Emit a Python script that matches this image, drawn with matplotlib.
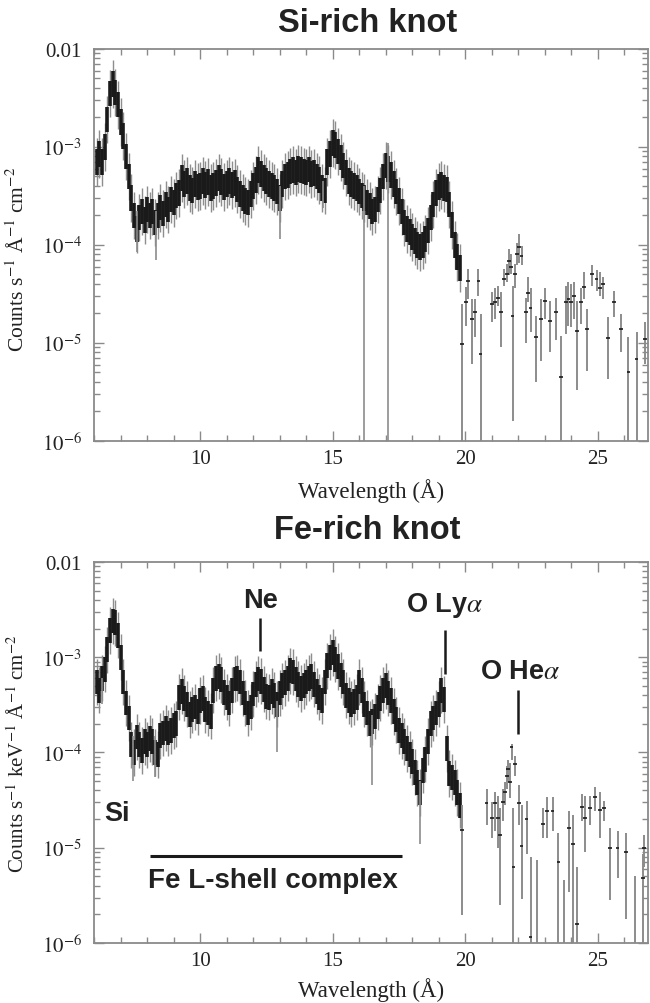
import matplotlib
matplotlib.use('Agg')
import matplotlib.pyplot as plt
from matplotlib.ticker import MultipleLocator, LogLocator, FixedLocator, FixedFormatter, NullFormatter
import numpy as np

plt.rcParams['font.family'] = ['Liberation Serif', 'DejaVu Serif']
plt.rcParams['mathtext.fontset'] = 'stix'

# ---- Si-rich knot, dense part (0.1 A bins from 6.1 A), units of 1e-4
si_flux = [7.0, 8.5, 7.0, 10, 19, 35, 44, 36, 27, 18,
           13, 8.0, 5.0, 3.0, 2.0, 1.45, 1.9, 2.2, 1.8, 2.3,
           2.0, 2.2, 1.7, 2.0, 2.4, 2.1, 2.6, 2.3, 2.9, 2.7,
           3.2, 3.4, 4.8, 4.2, 4.5, 3.8, 3.6, 4.2, 3.9, 4.0,
           4.5, 4.1, 4.4, 3.8, 4.0, 4.3, 4.8, 4.4, 3.9, 4.2,
           4.5, 4.1, 4.3, 3.7, 3.3, 3.0, 2.8, 2.7, 3.3, 4.0,
           4.6, 5.8, 5.3, 4.8, 4.5, 4.2, 4.0, 3.8, 3.5, 3.0,
           4.2, 5.0, 5.2, 5.6, 5.8, 5.5, 6.0, 5.8, 5.6, 5.5,
           5.9, 5.3, 5.4, 5.0, 4.6, 3.8, 3.6, 7.0, 8.5, 11.0,
           10.5, 9.0, 7.8, 6.5, 5.5, 4.5, 4.2, 4.0, 3.8, 3.5,
           3.2, 3.0, 2.7, 2.5, 2.2, 2.3, 2.9, 3.6, 5.0, 6.5,
           6.0, 5.2, 4.2, 3.5, 2.8, 2.2, 1.7, 1.45, 1.35, 1.2,
           1.1, 1.0, 0.95, 1.0, 1.15, 1.4, 1.9, 2.6, 3.4, 3.9,
           4.1, 3.8, 3.7, 2.6, 1.6, 1.0, 0.75, 0.58]

# long single bars inside the dense part
si_spike_x = [7.6, 8.35, 13.0, 14.65, 16.2, 17.08]
si_spike_lo = [8.5e-5, 7e-5, 1.15e-4, 2.4e-4, 5e-7, 5e-7]
si_spike_hi = [2.2e-4, 2.2e-4, 4e-4, 4.5e-4, 4e-4, 1.1e-3]

# sparse part: wavelength, value, lower and upper end of bar
si_x = [19.87, 20.03, 20.12, 20.27, 20.37, 20.5, 20.58, 21.0, 21.13, 21.25,
        21.35, 21.46, 21.57, 21.65, 21.72, 21.79, 21.88, 21.97, 22.04, 22.13,
        22.3, 22.38, 22.47, 22.67, 22.85, 23.02, 23.21, 23.43, 23.62, 23.8,
        23.9, 24.0, 24.1, 24.21, 24.36, 24.48, 24.61, 24.8, 24.96, 25.09,
        25.21, 25.4, 25.62, 25.87, 26.16, 26.47, 26.79]
si_y = [9.8e-6, 2.6e-5, 4.3e-5, 1.74e-5, 2.06e-5, 4.3e-5, 7.8e-6, 2.5e-5, 2.6e-5, 2.9e-5,
        2.06e-5, 4.5e-5, 5.1e-5, 6.9e-5, 6.0e-5, 1.88e-5, 5.1e-5, 8.1e-5, 9.5e-5, 7.8e-5,
        2.06e-5, 3.2e-5, 2.3e-5, 1.16e-5, 1.74e-5, 2.7e-5, 1.67e-5, 2.06e-5, 4.5e-6, 2.6e-5,
        2.8e-5, 2.6e-5, 3.0e-5, 1.32e-5, 2.6e-5, 3.7e-5, 1.39e-5, 5.1e-5, 4.5e-5, 3.6e-5,
        4.0e-5, 1.13e-5, 2.6e-5, 1.39e-5, 5.0e-6, 6.9e-6, 1.1e-5]
si_lo = [5e-7, 1.5e-5, 2.8e-5, 6.1e-6, 1.14e-5, 3.0e-5, 5e-7, 1.62e-5, 1.76e-5, 2.4e-5,
         9e-6, 3.8e-5, 4.2e-5, 4.9e-5, 5.1e-5, 1.6e-6, 3.6e-5, 6.2e-5, 6.6e-5, 6.2e-5,
         1.0e-5, 2.6e-5, 1.28e-5, 4.0e-6, 6.6e-6, 1.76e-5, 8e-6, 1.06e-5, 5e-7, 1.23e-5,
         1.5e-5, 1.45e-5, 1.76e-5, 3.3e-6, 1.56e-5, 2.8e-5, 5.2e-6, 3.8e-5, 3.4e-5, 3.0e-5,
         2.8e-5, 4.3e-6, 1.82e-5, 8e-6, 5e-7, 5e-7, 6.1e-6]
si_hi = [2.5e-5, 3.7e-5, 5.7e-5, 2.8e-5, 2.8e-5, 5.7e-5, 1.97e-5, 3.3e-5, 3.6e-5, 3.8e-5,
         3.3e-5, 5.7e-5, 6.4e-5, 9.1e-5, 8.1e-5, 3.8e-5, 6.4e-5, 1.06e-4, 1.29e-4, 9.8e-5,
         2.9e-5, 4.7e-5, 3.6e-5, 1.9e-5, 2.8e-5, 3.6e-5, 2.7e-5, 2.9e-5, 1.19e-5, 3.8e-5,
         4.2e-5, 4.0e-5, 4.2e-5, 2.7e-5, 3.6e-5, 5.3e-5, 2.2e-5, 6.2e-5, 5.5e-5, 5.3e-5,
         4.7e-5, 1.82e-5, 3.4e-5, 1.97e-5, 1.14e-5, 1.28e-5, 1.62e-5]

# ---- Fe-rich knot, dense part (0.1 A bins from 6.1 A), units of 1e-4
fe_flux = [5.5, 4.5, 6.0, 7.5, 12, 19, 24, 23, 17, 10,
           5.5, 3.3, 2.3, 1.2, 1.0, 1.45, 1.2, 1.05, 1.3, 1.2,
           1.4, 1.3, 1.0, 0.95, 1.5, 1.6, 1.8, 1.6, 1.7, 1.9,
           2.0, 3.8, 4.4, 3.7, 3.2, 2.5, 2.8, 3.0, 2.7, 3.5,
           3.7, 2.8, 2.6, 2.4, 4.5, 6.0, 6.3, 5.8, 4.3, 3.8,
           3.3, 4.5, 5.9, 6.0, 5.5, 4.2, 3.3, 2.6, 3.0, 4.1,
           5.2, 5.9, 5.6, 4.6, 3.9, 3.8, 4.4, 4.0, 3.2, 4.2,
           5.0, 5.4, 6.0, 7.2, 7.0, 5.9, 5.2, 4.7, 5.0, 5.5,
           6.0, 6.3, 5.2, 4.4, 3.8, 3.5, 5.5, 8.1, 10.0, 11.2,
           9.5, 8.0, 6.5, 5.5, 4.0, 3.5, 3.2, 3.4, 3.8, 5.5,
           4.5, 3.2, 2.6, 2.0, 2.1, 2.4, 3.0, 3.7, 4.5, 5.0,
           4.2, 3.5, 2.7, 2.2, 1.7, 1.5, 1.3, 1.1, 0.95, 0.8,
           0.62, 0.48, 0.38, 0.65, 0.85, 1.3, 2.0, 2.3, 2.6, 3.2,
           4.5, 3.6, 1.1, 0.6, 0.55, 0.48, 0.38, 0.28]

fe_spike_x = [6.28, 7.45, 8.3, 12.9, 16.5, 18.3]
fe_spike_lo = [3.2e-4, 5e-5, 5.5e-5, 1e-4, 4.6e-5, 1.1e-5]
fe_spike_hi = [6e-4, 1.5e-4, 1.5e-4, 3.5e-4, 2.5e-4, 5e-5]

fe_x = [19.87, 20.81, 21.0, 21.13, 21.25, 21.31, 21.44, 21.5, 21.57, 21.63,
        21.69, 21.75, 21.82, 21.88, 22.03, 22.13, 22.32, 22.47, 22.72, 22.95,
        23.1, 23.3, 23.52, 23.73, 23.93, 24.06, 24.21, 24.4, 24.52, 24.71,
        24.9, 25.09, 25.24, 25.47, 25.75, 26.06, 26.41, 26.72, 26.76]
fe_y = [1.53e-5, 2.97e-5, 2.07e-5, 2.97e-5, 2.04e-5, 1.36e-5, 3.0e-5, 3.8e-5, 5.7e-5, 6.7e-5,
        4.9e-5, 1.14e-4, 6.3e-6, 7.5e-5, 2.97e-5, 1.03e-5, 2.0e-5, 1.15e-6, 7e-7, 1.79e-5,
        2.4e-5, 2.45e-5, 7e-6, 7e-7, 1.6e-5, 1.09e-5, 1.58e-6, 2.7e-5, 2.04e-5, 2.6e-5,
        3.4e-5, 2.5e-5, 2.6e-5, 9.9e-6, 9.9e-6, 9e-6, 7e-7, 4.8e-6, 1.0e-5]
fe_lo = [1.95e-6, 1.74e-5, 1.27e-5, 1.5e-5, 1.0e-5, 2.5e-6, 1.9e-5, 2.8e-5, 4.1e-5, 4.9e-5,
         3.3e-5, 8.4e-5, 5e-7, 5.7e-5, 1.74e-5, 2.9e-6, 8.6e-6, 5e-7, 5e-7, 1.27e-5,
         1.27e-5, 1.5e-5, 5e-7, 5e-7, 3.4e-6, 5e-7, 5e-7, 1.9e-5, 9e-6, 1.74e-5,
         2.4e-5, 1.27e-5, 1.9e-5, 2.8e-6, 4.8e-6, 1.8e-6, 5e-7, 5e-7, 6.3e-6]
fe_hi = [2.8e-5, 4.1e-5, 3.0e-5, 3.8e-5, 3.5e-5, 2.6e-5, 4.1e-5, 4.9e-5, 7.2e-5, 8.4e-5,
         7.7e-5, 1.24e-4, 2.6e-5, 9.1e-5, 4.5e-5, 2.8e-5, 3.1e-5, 8e-6, 7.4e-6, 2.6e-5,
         3.4e-5, 3.4e-5, 1.44e-5, 4.6e-6, 2.4e-5, 2.2e-5, 6.3e-6, 3.7e-5, 3.5e-5, 3.5e-5,
         4.3e-5, 3.8e-5, 3.1e-5, 1.6e-5, 1.5e-5, 1.44e-5, 5e-6, 8.6e-6, 1.36e-5]

ytick_vals = [1e-6, 1e-5, 1e-4, 1e-3, 1e-2]
ytick_text = ['$10^{-6}$', '$10^{-5}$', '$10^{-4}$', '$10^{-3}$', '0.01']

DARK = '#1a1a1a'
GREY = '#8c8c8c'
FRAME = '#8a8a8a'


def draw_panel(ax, flux, spike_x, spike_lo, spike_hi, sx, sy, slo, shi):
    y = np.array(flux) * 1e-4
    x = 6.1 + 0.1 * np.arange(len(y))
    # grey whiskers under a black core, like the stacked error bars of the spectrum
    ax.vlines(x, y / 1.75, y * 1.75, color='#8e8e8e', lw=1.0)
    ax.vlines(x, y / 1.35, y * 1.35, color=DARK, lw=2.6)
    ax.vlines(spike_x, spike_lo, spike_hi, color=GREY, lw=1.2)
    ax.vlines(sx, slo, shi, color=GREY, lw=1.4)
    ax.hlines(sy, np.array(sx) - 0.07, np.array(sx) + 0.07, color=DARK, lw=1.2)

    ax.set_yscale('log')
    ax.set_xlim(6, 26.9)
    ax.set_ylim(1e-6, 1e-2)
    ax.xaxis.set_major_locator(MultipleLocator(5))
    ax.xaxis.set_minor_locator(MultipleLocator(1))
    ax.yaxis.set_major_locator(FixedLocator(ytick_vals))
    ax.yaxis.set_major_formatter(FixedFormatter(ytick_text))
    ax.yaxis.set_minor_locator(LogLocator(base=10, subs=np.arange(2, 10)))
    ax.yaxis.set_minor_formatter(NullFormatter())
    ax.tick_params(which='both', direction='in', top=True, right=True,
                   color=FRAME, width=1.0, labelsize=15, labelcolor='#222')
    ax.tick_params(which='major', length=7)
    ax.tick_params(which='minor', length=4)
    ax.tick_params(axis='x', pad=6)
    ax.tick_params(axis='y', pad=9)
    for s in ax.spines.values():
        s.set_color(FRAME)
        s.set_linewidth(1.3)
    ax.set_xlabel('Wavelength (Å)', fontsize=16.5, color='#222')


fig = plt.figure(figsize=(6.5, 10.04), dpi=100)
ax1 = fig.add_axes([0.1449, 0.5598, 0.852, 0.3904])
ax2 = fig.add_axes([0.1449, 0.0598, 0.852, 0.3795])

draw_panel(ax1, si_flux, si_spike_x, si_spike_lo, si_spike_hi, si_x, si_y, si_lo, si_hi)
draw_panel(ax2, fe_flux, fe_spike_x, fe_spike_lo, fe_spike_hi, fe_x, fe_y, fe_lo, fe_hi)

ax1.set_ylabel('Counts s$^{-1}$ Å$^{-1}$ cm$^{-2}$', fontsize=15.5, color='#222')
ax2.set_ylabel('Counts s$^{-1}$ keV$^{-1}$ Å$^{-1}$ cm$^{-2}$', fontsize=15, color='#222')
ax1.yaxis.set_label_coords(-0.118, 0.467)
ax2.yaxis.set_label_coords(-0.118, 0.50)
ax1.xaxis.set_label_coords(0.5, -0.094)
ax2.xaxis.set_label_coords(0.5, -0.089)

sans = ['Liberation Sans', 'DejaVu Sans']
fig.text(0.566, 0.977, 'Si-rich knot', ha='center', va='center', fontsize=23.5,
         fontweight='bold', family=sans, color='#222')
fig.text(0.565, 0.472, 'Fe-rich knot', ha='center', va='center', fontsize=23.5,
         fontweight='bold', family=sans, color='#222')

# line labels on the Fe-rich panel
lab = dict(ha='center', va='center', fontsize=19.5, fontweight='bold', family=sans, color='#222')
ax2.text(12.26, 4.0e-3, 'Ne', **lab)
ax2.vlines(12.26, 1.15e-3, 2.6e-3, color=DARK, lw=1.8)
ax2.text(19.23, 3.55e-3, r'O Ly$\alpha$', **lab)
ax2.vlines(19.23, 6.7e-4, 1.93e-3, color=DARK, lw=1.8)
ax2.text(22.06, 7.2e-4, r'O He$\alpha$', **lab)
ax2.vlines(21.98, 1.56e-4, 4.5e-4, color=DARK, lw=1.8)
ax2.text(6.37, 2.3e-5, 'Si', ha='left', va='center', fontsize=19.5,
         fontweight='bold', family=sans, color='#222')
ax2.hlines(8.1e-6, 8.12, 17.61, color=DARK, lw=2.2)
ax2.text(8.03, 4.6e-6, 'Fe L-shell complex', ha='left', va='center', fontsize=20,
         fontweight='bold', family=sans, color='#222')

fig.savefig('out.png', dpi=100)
